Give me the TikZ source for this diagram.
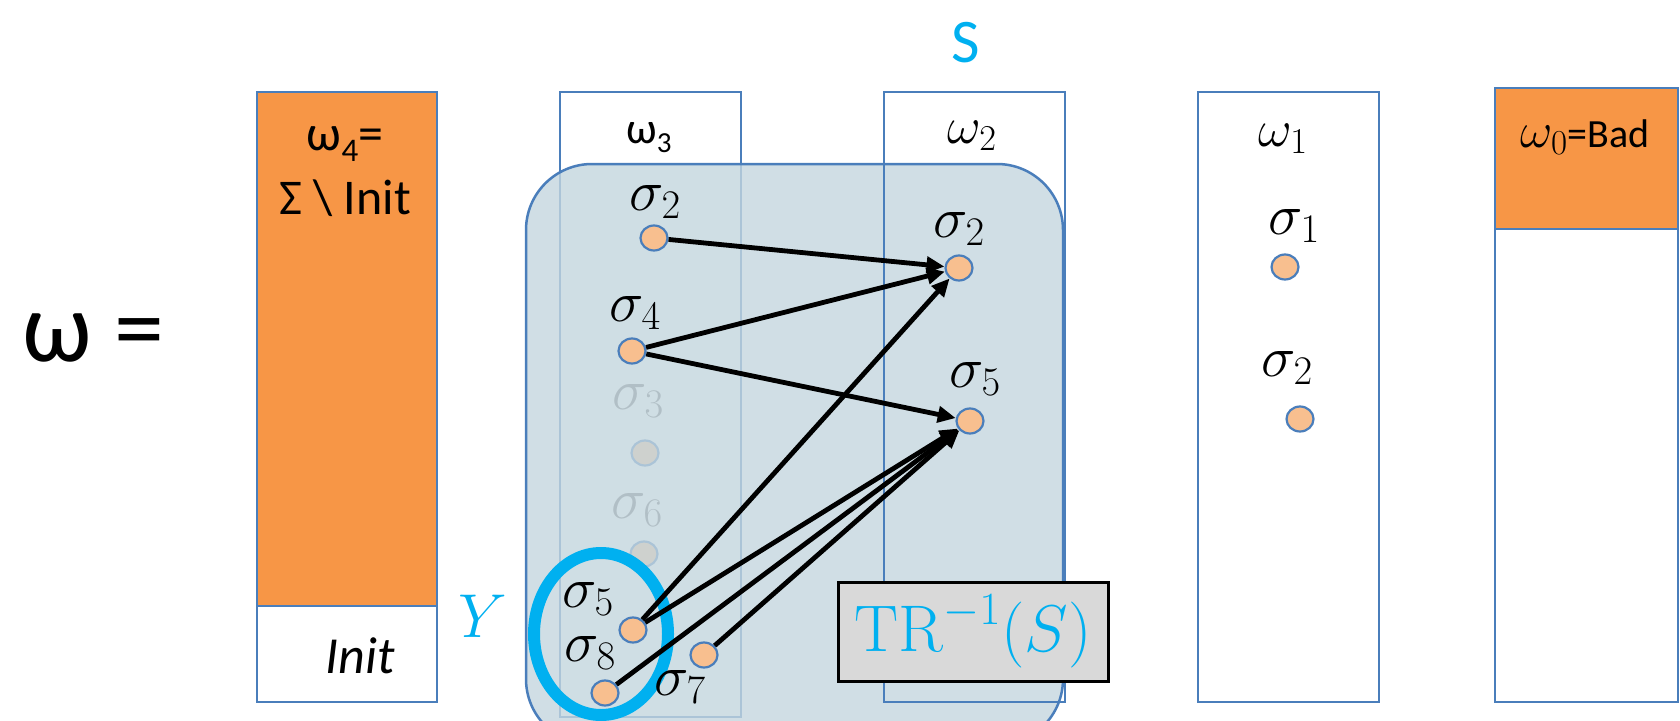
\RequirePackage{fix-cm}
\documentclass[tikz,border=0pt]{standalone}
\usepackage{fontspec}
\setmainfont{Carlito}
\setmathrm{Latin Modern Roman}
\usepackage{graphicx}
\usetikzlibrary{arrows.meta,shapes.geometric}

\definecolor{boxblue}{HTML}{4A7EBB}
\definecolor{fillorange}{HTML}{F79646}
\definecolor{peach}{HTML}{F8BF8F}
\definecolor{cyanc}{HTML}{00B0F0}
\definecolor{regionc}{HTML}{C4D6DE}
\definecolor{trgray}{HTML}{D9D9D9}

\newcommand\lowidx[1]{\raisebox{-0.22em}{\scalebox{0.66}{#1}}}
\newcommand\setsz[1]{\fontsize{#1}{#1}\selectfont}

\begin{document}
\begin{tikzpicture}[x=1pt,y=-1pt,
  dot/.style={ellipse, draw=boxblue, line width=2.2pt, fill=peach,
    minimum width=27pt, minimum height=25pt, inner sep=0pt},
  lbl/.style={inner sep=0pt, anchor=base},
  siglbl/.style={lbl, font=\setsz{58}},
  flow/.style={line width=4.8pt, -{Triangle[length=18pt,width=16pt]}},
  colbox/.style={draw=boxblue, line width=2.5pt}]

\useasboundingbox (0,0) rectangle (1680,720);

% column omega_4: complement of Init, with Init at the bottom
\fill[fillorange] (257,92) rectangle (437,606);
\fill[white] (257,606) rectangle (437,702);
\draw[colbox] (257,92) rectangle (437,702);
\draw[colbox] (257,606) -- (437,606);

% column omega_3 (behind the shaded set)
\draw[colbox, fill=white] (560,92) rectangle (741,717);

% states of omega_3 outside the pre-image, seen through the shaded set
\node[dot] (a3) at (645,453) {};
\node[dot] (a6) at (644,554) {};
\node[siglbl, text=black!60] (la3) at (638,409) {$\sigma_3$};
\node[siglbl, text=black!60] (la6) at (637,518) {$\sigma_6$};

% shaded pre-image region
\fill[regionc, fill opacity=0.8, rounded corners=66pt] (526,164) rectangle (1063,745);
\draw[boxblue, line width=2.5pt, rounded corners=66pt] (526,164) rectangle (1063,745);

% columns omega_2, omega_1, omega_0
\draw[colbox] (884,92) rectangle (1065,702);
\draw[colbox, fill=white] (1198,92) rectangle (1379,702);
\fill[white] (1495,88) rectangle (1678,702);
\fill[fillorange] (1495,88) rectangle (1678,229);
\draw[colbox] (1495,88) rectangle (1678,702);
\draw[colbox] (1495,229) -- (1678,229);

% the set Y
\node[ellipse, draw=cyanc, line width=12pt, minimum width=134pt,
  minimum height=162pt, inner sep=0pt] (yset) at (601,634) {};

% states
\node[dot] (a2) at (654,238) {};
\node[dot] (a4) at (632,351) {};
\node[dot] (a5) at (633,630) {};
\node[dot] (a8) at (605,693) {};
\node[dot] (a7) at (704,655) {};
\node[dot] (b2) at (959,268) {};
\node[dot] (b5) at (970,421) {};
\node[dot] (c1) at (1285,267) {};
\node[dot] (c2) at (1300,419) {};

% transitions into S
\draw[flow] (a2) -- (b2);
\draw[flow] (a4) -- (b2);
\draw[flow] (a4) -- (b5);
\draw[flow] (a5) -- (b2);
\draw[flow] (a5) -- (b5);
\draw[flow] (a8) -- (b5);
\draw[flow] (a7) -- (b5);

% state labels
\node[siglbl] (la2) at (655,210) {$\sigma_2$};
\node[siglbl] (la4) at (635,321) {$\sigma_4$};
\node[siglbl] (la5) at (588,607) {$\sigma_5$};
\node[siglbl] (la8) at (590,661) {$\sigma_8$};
\node[siglbl] (la7) at (680,695) {$\sigma_7$};
\node[siglbl] (lb2) at (959,237) {$\sigma_2$};
\node[siglbl] (lb5) at (975,387) {$\sigma_5$};
\node[siglbl] (lc1) at (1294,234) {$\sigma_1$};
\node[siglbl] (lc2) at (1287,376) {$\sigma_2$};

% pre-image label
\node[draw=black, line width=3pt, fill=trgray, minimum width=270pt,
  minimum height=99pt, inner sep=0pt, text=cyanc, font=\setsz{66}]
  (tr) at (973,631.5) {$\mathrm{TR}^{-1}(S)$};

% column titles
\node[lbl, font=\setsz{50}] (t4a) at (345,150) {ω\lowidx{4}=};
\node[lbl, font=\setsz{50}] (t4b) at (345,214) {Σ \textbackslash{} Init};
\node[lbl, font=\setsz{52}\itshape] (tinit) at (360,673) {Init};
\node[lbl, font=\setsz{44}] (t3) at (649,143) {ω\lowidx{3}};
\node[lbl, font=\setsz{52}] (t2) at (972,143) {$\omega_2$};
\node[lbl, font=\setsz{52}] (t1) at (1283,146) {$\omega_1$};
\node[lbl, font=\setsz{40}] (t0) at (1585,147) {{\setsz{50}$\omega_0$}=Bad};

% set names
\node[lbl, text=cyanc, font=\setsz{62}] (sname) at (966,62) {S};
\node[lbl, text=cyanc, font=\setsz{62}] (yname) at (483,637) {$Y$};

% left-hand side
\node[inner sep=0pt, anchor=base west, font=\setsz{100}] (lhs) at (22,361) {ω =};
\end{tikzpicture}
\end{document}
